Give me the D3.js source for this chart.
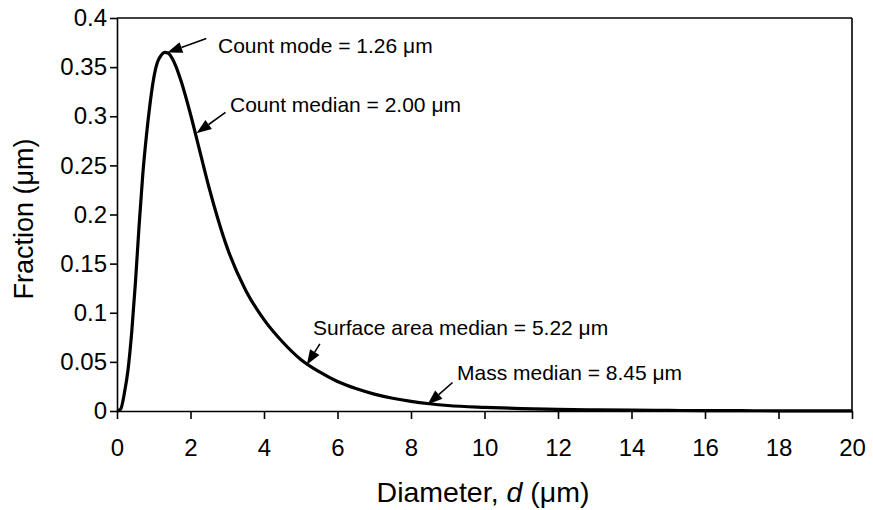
<!DOCTYPE html>
<html>
<head>
<meta charset="utf-8">
<script src="https://cdn.jsdelivr.net/npm/d3@7"></script>
<style>
  body { margin: 0; background: #fff; }
  svg { display: block; }
  text { font-family: "Liberation Sans", Arial, Helvetica, sans-serif; fill: #000; }
</style>
</head>
<body>
<svg id="chart" width="873" height="510"></svg>
<script>
// Particle size distribution: fraction per micrometre vs diameter
const diameters = [0, 0.1, 0.2, 0.3, 0.4, 0.5, 0.6, 0.7, 0.8, 0.9, 1.0, 1.1, 1.2, 1.3, 1.4, 1.5, 1.6, 1.75, 2.0, 2.25, 2.5, 2.75, 3.0, 3.5, 4.0, 4.5, 5.0, 5.5, 6.0, 6.5, 7.0, 7.5, 8.0, 8.5, 9.0, 10, 11, 12, 13, 14, 15, 16, 17, 18, 19, 20];
const fractions = [0, 0.002, 0.018, 0.042, 0.080, 0.130, 0.188, 0.240, 0.280, 0.313, 0.339, 0.355, 0.362, 0.365, 0.364, 0.359, 0.351, 0.335, 0.302, 0.265, 0.228, 0.195, 0.166, 0.123, 0.093, 0.0705, 0.0525, 0.040, 0.030, 0.0228, 0.0172, 0.0130, 0.0098, 0.0074, 0.0056, 0.0037, 0.0025, 0.0017, 0.0012, 0.0008, 0.0006, 0.0004, 0.0003, 0.0002, 0.00015, 0.0001];

const xTickValues = [0, 2, 4, 6, 8, 10, 12, 14, 16, 18, 20];
const yTickValues = [0, 0.05, 0.1, 0.15, 0.2, 0.25, 0.3, 0.35, 0.4];
const yTickLabels = ["0", "0.05", "0.1", "0.15", "0.2", "0.25", "0.3", "0.35", "0.4"];

const noteLabels = ["Count mode = 1.26 \u03bcm", "Count median = 2.00 \u03bcm", "Surface area median = 5.22 \u03bcm", "Mass median = 8.45 \u03bcm"];
const noteDiameters = [1.26, 2.00, 5.22, 8.45];

// Placement of each annotation (pixels): tip nudge from the curve point,
// tail offset from the tip, and label anchor (left, baseline)
const notePlacement = [
  { tip: [4, -1],  tail: [39, -14], label: [218, 53] },
  { tip: [6, 19],  tail: [29, -21], label: [230, 112] },
  { tip: [-2, 0],  tail: [13, -21], label: [313, 335] },
  { tip: [0, 1],   tail: [25, -22], label: [457, 380] }
];

const svg = d3.select("#chart");
const plot = { left: 117, right: 852, top: 18, bottom: 411 };

const x = d3.scaleLinear().domain([0, 20]).range([plot.left, plot.right]);
const y = d3.scaleLinear().domain([0, 0.4]).range([plot.bottom, plot.top]);

const points = diameters.map((d, i) => [d, fractions[i]]);

// Frame: top and right edges
svg.append("line")
  .attr("x1", plot.left).attr("x2", plot.right)
  .attr("y1", plot.top).attr("y2", plot.top)
  .attr("stroke", "#000").attr("stroke-width", 1.6);
svg.append("line")
  .attr("x1", plot.right).attr("x2", plot.right)
  .attr("y1", plot.top).attr("y2", plot.bottom)
  .attr("stroke", "#000").attr("stroke-width", 1.6);

// Axes
const xAxis = svg.append("g")
  .attr("transform", `translate(0,${plot.bottom})`)
  .call(d3.axisBottom(x).tickValues(xTickValues).tickFormat(d3.format("d"))
    .tickSize(8).tickSizeOuter(0).tickPadding(20));
const yAxis = svg.append("g")
  .attr("transform", `translate(${plot.left},0)`)
  .call(d3.axisLeft(y).tickValues(yTickValues).tickFormat((d, i) => yTickLabels[i])
    .tickSize(7).tickSizeOuter(0).tickPadding(3));

[xAxis, yAxis].forEach(g => {
  g.select(".domain").attr("stroke", "#000").attr("stroke-width", 1.6);
  g.selectAll(".tick line").attr("stroke", "#000").attr("stroke-width", 1.6);
  g.selectAll(".tick text")
    .attr("font-family", "\"Liberation Sans\", Arial, Helvetica, sans-serif")
    .attr("font-size", 24).attr("fill", "#000");
});

// Distribution curve
const line = d3.line()
  .x(d => x(d[0]))
  .y(d => y(d[1]))
  .curve(d3.curveMonotoneX);
svg.append("path")
  .datum(points)
  .attr("d", line)
  .attr("fill", "none")
  .attr("stroke", "#000")
  .attr("stroke-width", 3.2)
  .attr("stroke-linejoin", "round");

// Linear interpolation along the curve, for placing arrow tips
function fractionAt(d) {
  for (let i = 1; i < diameters.length; i++) {
    if (d <= diameters[i]) {
      const t = (d - diameters[i - 1]) / (diameters[i] - diameters[i - 1]);
      return fractions[i - 1] + t * (fractions[i] - fractions[i - 1]);
    }
  }
  return fractions[fractions.length - 1];
}

// Annotations with filled arrowheads
const headLen = 15, headHalf = 5.5;
noteLabels.forEach((label, i) => {
  const p = notePlacement[i];
  const d = noteDiameters[i];
  const tx = x(d) + p.tip[0];
  const ty = y(fractionAt(d)) + p.tip[1];
  const sx = tx + p.tail[0];
  const sy = ty + p.tail[1];
  const len = Math.hypot(sx - tx, sy - ty);
  const ux = (sx - tx) / len, uy = (sy - ty) / len;
  const bx = tx + ux * headLen, by = ty + uy * headLen;

  svg.append("line")
    .attr("x1", sx).attr("y1", sy)
    .attr("x2", bx).attr("y2", by)
    .attr("stroke", "#000").attr("stroke-width", 1.6);
  svg.append("polygon")
    .attr("points", [
      [tx, ty],
      [bx - uy * headHalf, by + ux * headHalf],
      [bx + uy * headHalf, by - ux * headHalf]
    ].map(q => q.join(",")).join(" "))
    .attr("fill", "#000");

  svg.append("text")
    .attr("x", p.label[0]).attr("y", p.label[1])
    .attr("font-size", 21)
    .text(label);
});

// Axis titles
const xTitle = svg.append("text")
  .attr("x", 483)
  .attr("y", 502)
  .attr("text-anchor", "middle")
  .attr("font-size", 28.5);
xTitle.append("tspan").text("Diameter, ");
xTitle.append("tspan").attr("font-style", "italic").text("d");
xTitle.append("tspan").text(" (\u03bcm)");

svg.append("text")
  .attr("transform", "translate(33,219) rotate(-90)")
  .attr("text-anchor", "middle")
  .attr("font-size", 27)
  .text("Fraction (\u03bcm)");
</script>
</body>
</html>
